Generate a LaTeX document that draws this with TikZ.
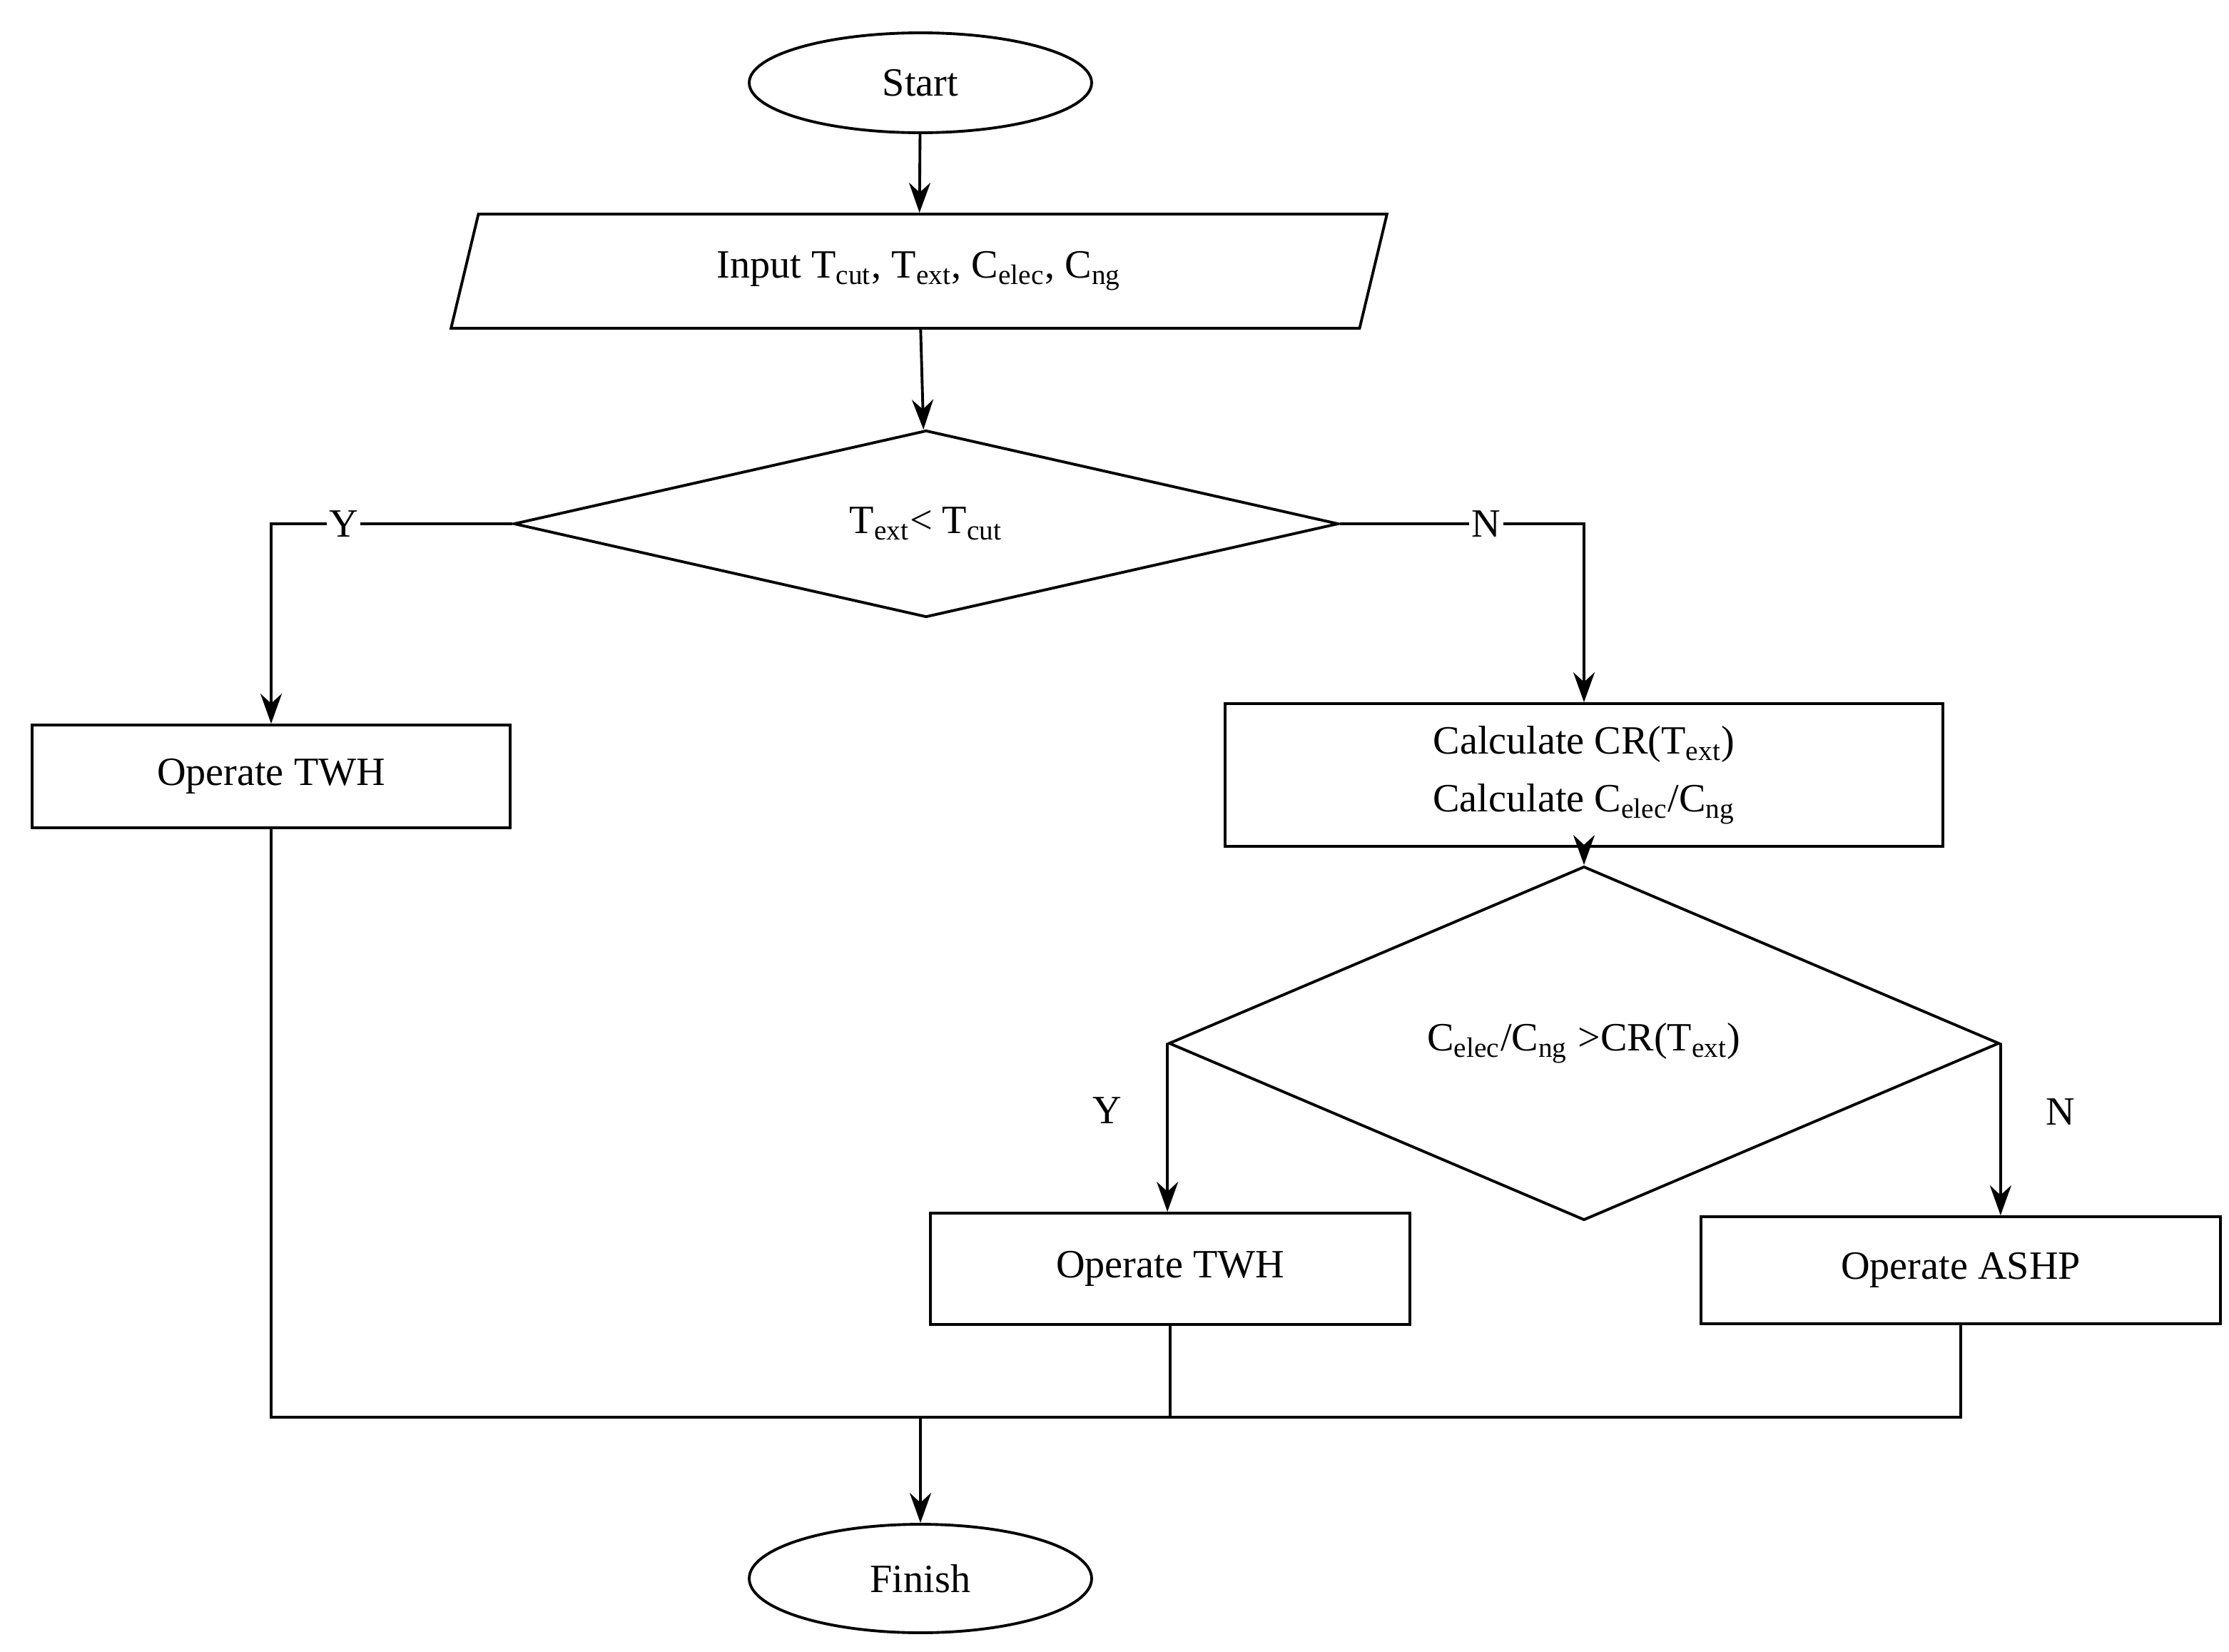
\documentclass[tikz,border=0pt]{standalone}
\usepackage{fontspec}
\setmainfont{Liberation Serif}
\usetikzlibrary{shapes.geometric,arrows.meta}
\begin{document}
\begin{tikzpicture}[x=0.02cm,y=-0.02cm,line width=1.1pt,
  every node/.style={font=\fontsize{16}{19}\selectfont},
  box/.style={draw,rectangle,inner sep=0},
  dia/.style={draw,diamond,inner sep=0},
  term/.style={draw,ellipse,inner sep=0},
  arr/.style={-{Stealth[length=0.42cm,width=0.3cm]}},
  lab/.style={fill=white,inner sep=1pt}]
\useasboundingbox (0,0) rectangle (1562,1157.5);
\node[term,minimum width=4.8cm,minimum height=1.4cm] (start) at (645,58) {Start};
\node[draw,trapezium,trapezium left angle=55,trapezium right angle=125,trapezium stretches body,inner sep=0,minimum width=13.12cm,minimum height=1.6cm] (in) at (644,190) {Input T\textsubscript{cut}, T\textsubscript{ext}, C\textsubscript{elec}, C\textsubscript{ng}};
\node[dia,minimum width=11.56cm,minimum height=2.62cm] (d1) at (649,367) {T\textsubscript{ext}< T\textsubscript{cut}};
\node[box,minimum width=6.7cm,minimum height=1.44cm] (twh1) at (190,544) {Operate TWH};
\node[box,minimum width=10.06cm,minimum height=2cm,align=center] (calc) at (1110,543) {Calculate CR(T\textsubscript{ext})\\[4pt]Calculate C\textsubscript{elec}/C\textsubscript{ng}};
\node[dia,minimum width=11.64cm,minimum height=2.36cm] (d2) at (1110,731) {C\textsubscript{elec}/C\textsubscript{ng} >CR(T\textsubscript{ext})};
\node[box,minimum width=6.72cm,minimum height=1.56cm] (twh2) at (820,889) {Operate TWH};
\node[box,minimum width=7.28cm,minimum height=1.5cm] (ashp) at (1374,890) {Operate ASHP};
\node[term,minimum width=4.8cm,minimum height=1.52cm] (fin) at (645,1106) {Finish};
\coordinate (m) at (645,993);
\draw[arr] (start) -- (in);
\draw[arr] (in) -- (d1);
\draw[arr] (d1.west) -| node[lab,pos=0.35]{Y} (twh1.north);
\draw[arr] (d1.east) -| node[lab,pos=0.3]{N} (calc.north);
\draw[arr] (calc) -- (d2);
\draw[arr] (d2.west) -- (twh2.north west -| d2.west) node[pos=0.4,left=0.5cm]{Y};
\draw[arr] (d2.east) -- (ashp.north -| d2.east) node[pos=0.4,right=0.5cm]{N};
\draw (twh1.south) |- (ashp.south |- m) -- (ashp.south);
\draw (twh2.south) -- (twh2.south |- m);
\draw[arr] (m) -- (fin);
\end{tikzpicture}
\end{document}
